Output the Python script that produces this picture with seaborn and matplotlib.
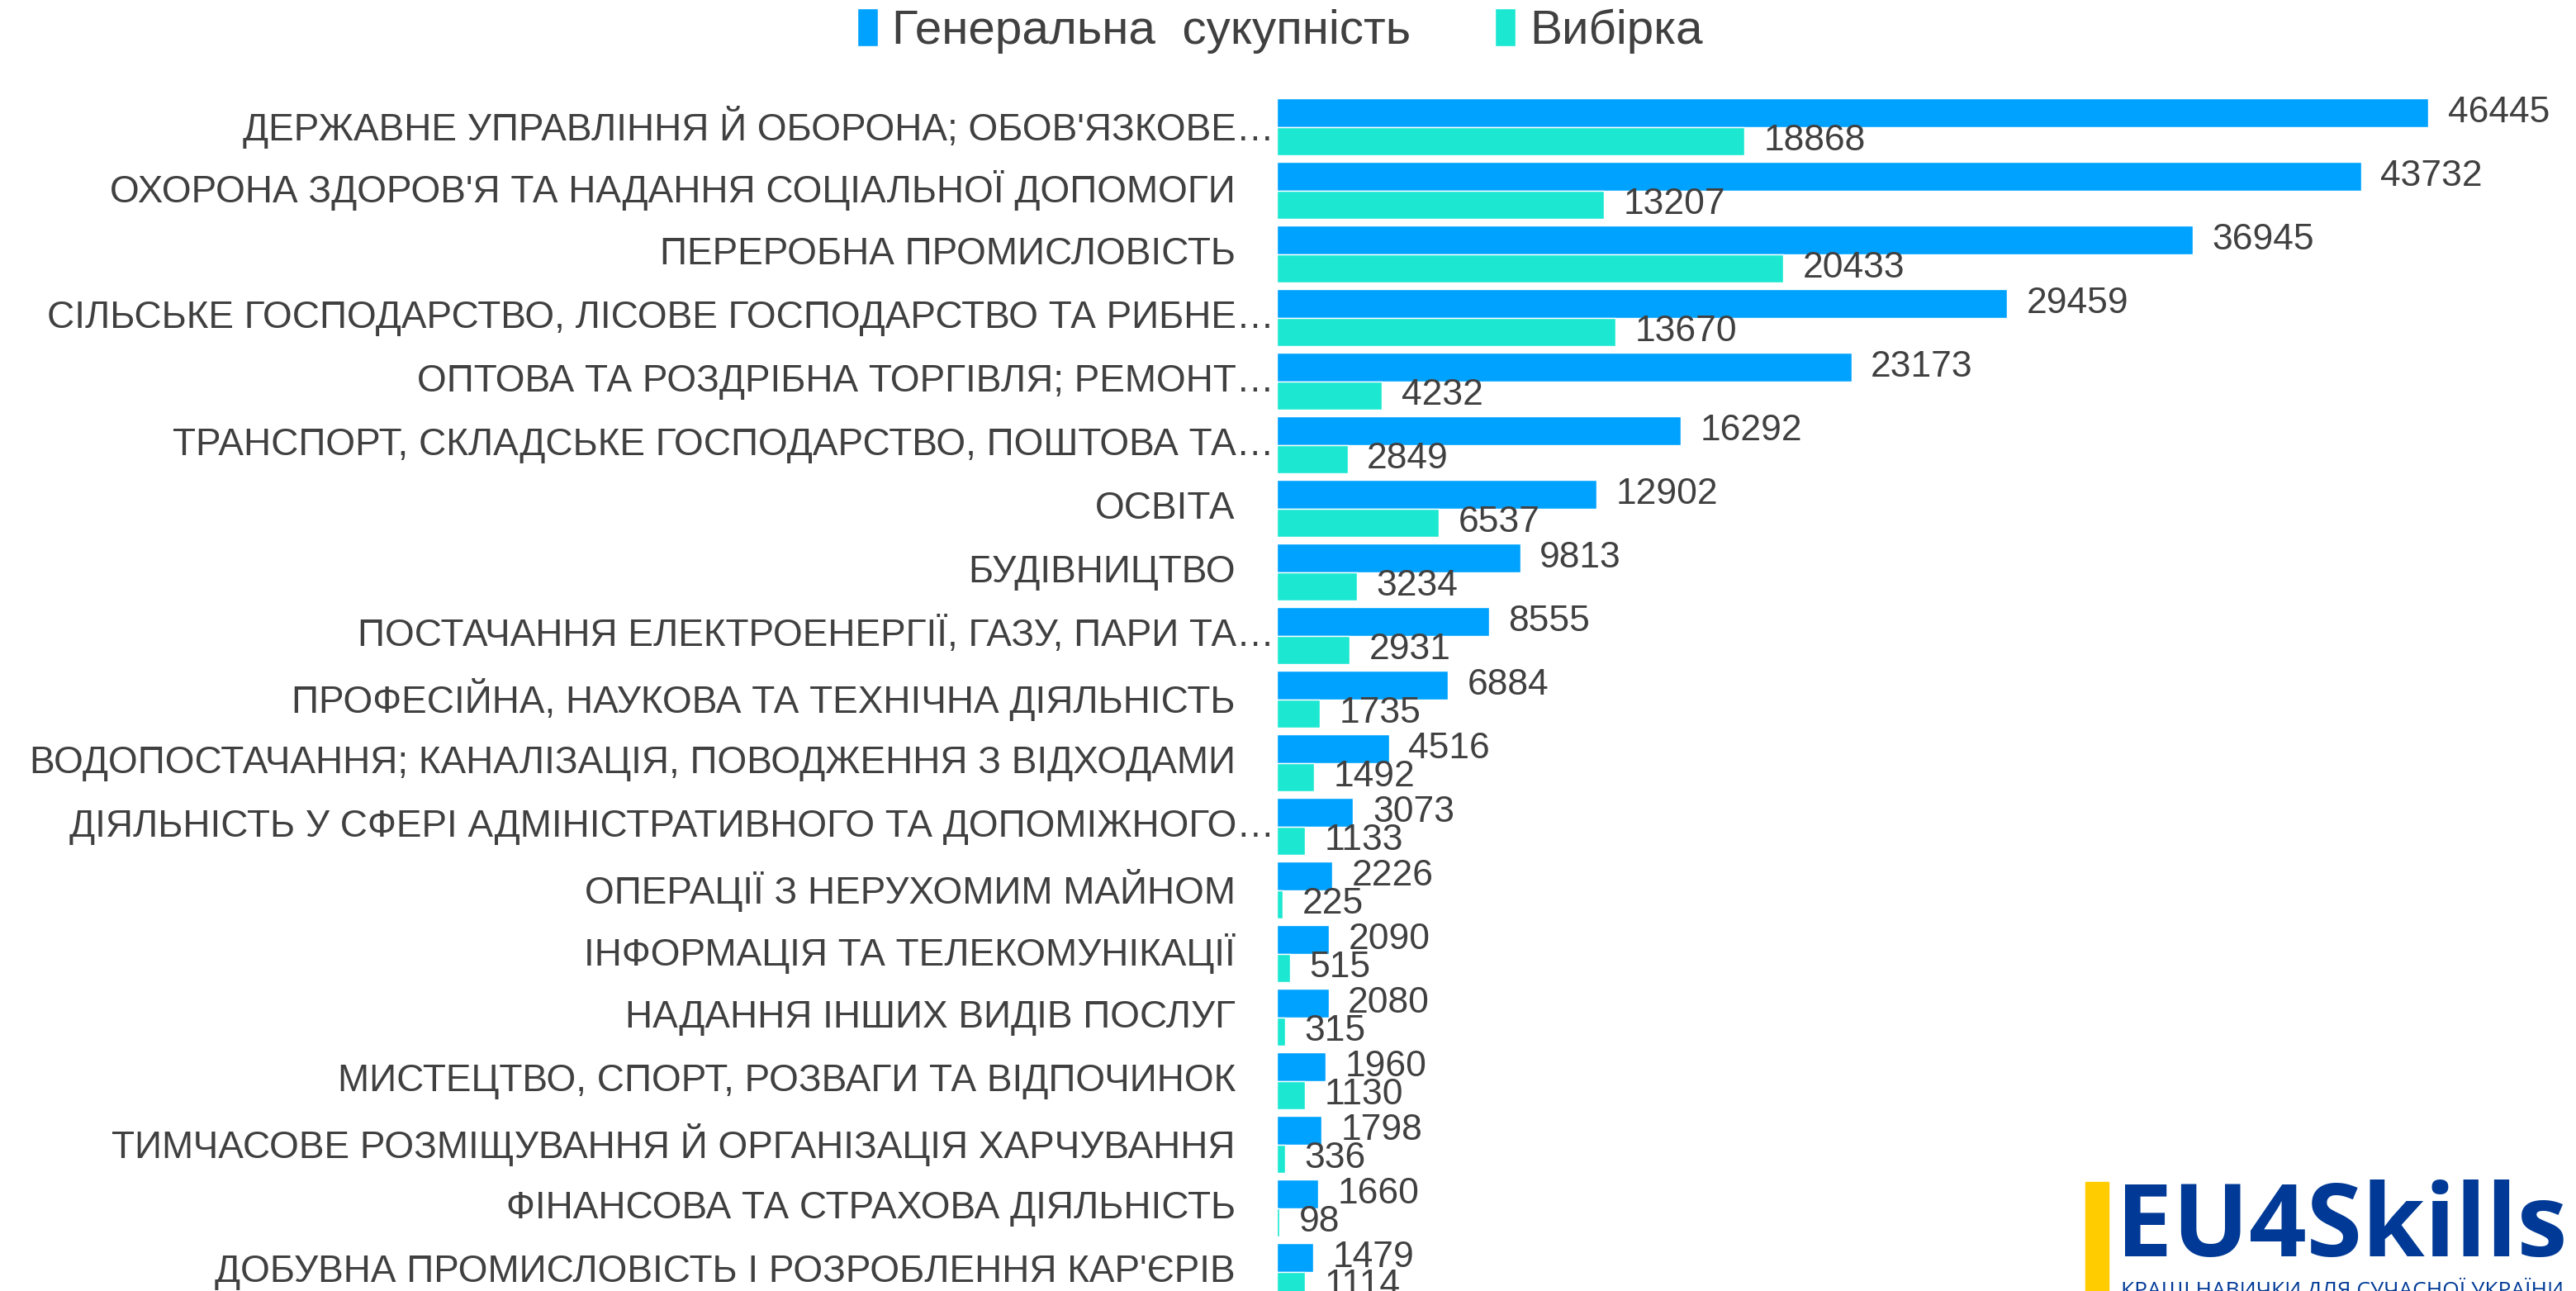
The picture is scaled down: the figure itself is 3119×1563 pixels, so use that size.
import pandas as pd
import matplotlib.pyplot as plt
import matplotlib.transforms as mtrans
import seaborn as sns

# Дані
categories = [
    "ДЕРЖАВНЕ УПРАВЛІННЯ Й ОБОРОНА; ОБОВ'ЯЗКОВЕ…",
    "ОХОРОНА ЗДОРОВ'Я ТА НАДАННЯ СОЦІАЛЬНОЇ ДОПОМОГИ",
    "ПЕРЕРОБНА ПРОМИСЛОВІСТЬ",
    "СІЛЬСЬКЕ ГОСПОДАРСТВО, ЛІСОВЕ ГОСПОДАРСТВО ТА РИБНЕ…",
    "ОПТОВА ТА РОЗДРІБНА ТОРГІВЛЯ; РЕМОНТ…",
    "ТРАНСПОРТ, СКЛАДСЬКЕ ГОСПОДАРСТВО, ПОШТОВА ТА…",
    "ОСВІТА",
    "БУДІВНИЦТВО",
    "ПОСТАЧАННЯ ЕЛЕКТРОЕНЕРГІЇ, ГАЗУ, ПАРИ ТА…",
    "ПРОФЕСІЙНА, НАУКОВА ТА ТЕХНІЧНА ДІЯЛЬНІСТЬ",
    "ВОДОПОСТАЧАННЯ; КАНАЛІЗАЦІЯ, ПОВОДЖЕННЯ З ВІДХОДАМИ",
    "ДІЯЛЬНІСТЬ У СФЕРІ АДМІНІСТРАТИВНОГО ТА ДОПОМІЖНОГО…",
    "ОПЕРАЦІЇ З НЕРУХОМИМ МАЙНОМ",
    "ІНФОРМАЦІЯ ТА ТЕЛЕКОМУНІКАЦІЇ",
    "НАДАННЯ ІНШИХ ВИДІВ ПОСЛУГ",
    "МИСТЕЦТВО, СПОРТ, РОЗВАГИ ТА ВІДПОЧИНОК",
    "ТИМЧАСОВЕ РОЗМІЩУВАННЯ Й ОРГАНІЗАЦІЯ ХАРЧУВАННЯ",
    "ФІНАНСОВА ТА СТРАХОВА ДІЯЛЬНІСТЬ",
    "ДОБУВНА ПРОМИСЛОВІСТЬ І РОЗРОБЛЕННЯ КАР'ЄРІВ",
]
general = [46445, 43732, 36945, 29459, 23173, 16292, 12902, 9813, 8555, 6884,
           4516, 3073, 2226, 2090, 2080, 1960, 1798, 1660, 1479]
sample = [18868, 13207, 20433, 13670, 4232, 2849, 6537, 3234, 2931, 1735,
          1492, 1133, 225, 515, 315, 1130, 336, 98, 1114]
series_names = ["Генеральна  сукупність", "Вибірка"]

df = pd.DataFrame({
    "cat": categories * 2,
    "value": general + sample,
    "series": [series_names[0]] * len(general) + [series_names[1]] * len(sample),
})

sns.set_theme(style="white")
plt.rcParams["font.family"] = ["Liberation Sans", "DejaVu Sans"]
text_color = "#404040"

fig = plt.figure(figsize=(31.19, 15.63), dpi=100)
ax = fig.add_axes([0.4957, -0.0096, 0.5043, 0.936])

sns.barplot(data=df, y="cat", x="value", hue="series", orient="h",
            palette=["#00A2FF", "#1CE8D1"], width=0.896, gap=0,
            saturation=1, ax=ax, legend=True)

ax.set_xlim(0, 52409)
ax.set_ylim(len(categories) - 0.5, -0.5)
ax.set_xlabel("")
ax.set_ylabel("")
ax.set_xticks([])
ax.set_yticks([])
sns.despine(ax=ax, left=True, bottom=True)

# Підписи значень
for cont in ax.containers:
    ax.bar_label(cont, fmt="%d", padding=17, fontsize=32, color=text_color)

# Підписи категорій
trans = mtrans.blended_transform_factory(ax.transAxes, ax.transData)
for i, name in enumerate(categories):
    xoff = -0.002 if name.endswith("…") else -0.032
    ax.text(xoff, i, name, transform=trans, ha="right", va="center",
            fontsize=33, color=text_color)

# Легенда
handles, labels = ax.get_legend_handles_labels()
ax.legend(handles, labels, loc="center", bbox_to_anchor=(0.497, 0.976),
          bbox_transform=fig.transFigure, ncol=2, frameon=False,
          fontsize=42, handlelength=0.42, handleheight=0.85,
          handletextpad=0.3, columnspacing=1.75, labelcolor=text_color)

# Логотип
fig.patches.append(plt.Rectangle((0.8096, 0.0), 0.009, 0.0845,
                                 transform=fig.transFigure, color="#FFCC00"))
fig.text(0.8215, 0.0269, "EU4Skills", fontsize=88, fontweight="bold",
         color="#003A96", family="Open Sans", ha="left", va="baseline")
fig.text(0.8235, -0.0045, "КРАЩІ НАВИЧКИ ДЛЯ СУЧАСНОЇ УКРАЇНИ", fontsize=19,
         color="#003A96", family="Open Sans", ha="left", va="baseline")

fig.savefig("out.png", dpi=100)
